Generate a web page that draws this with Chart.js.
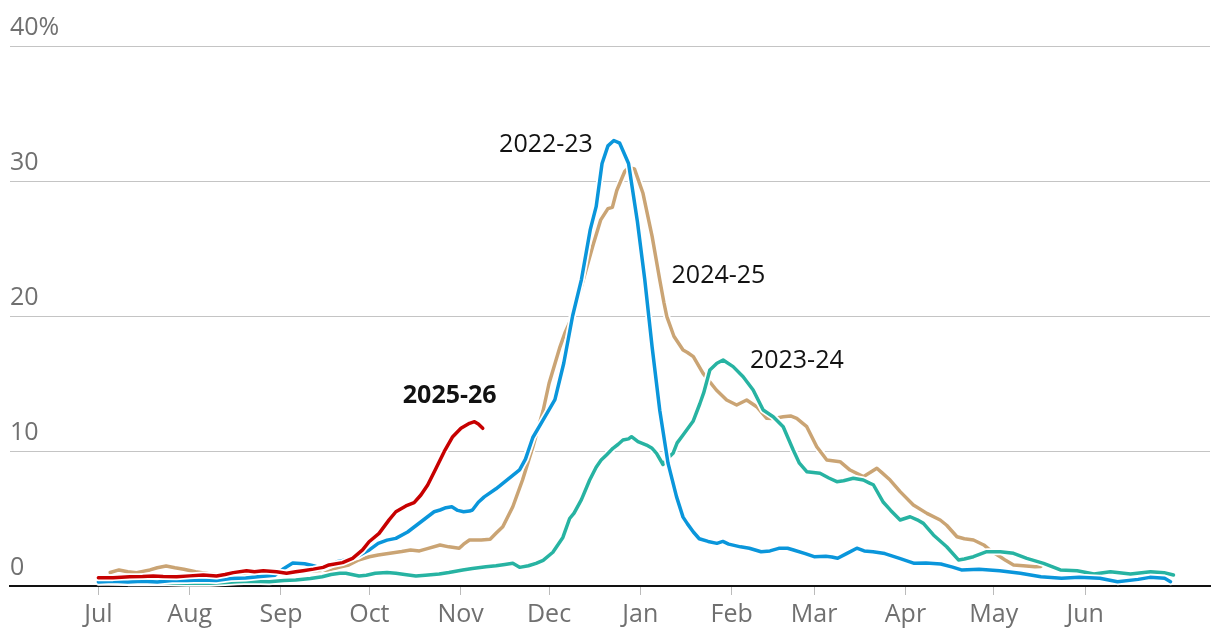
<!DOCTYPE html>
<html>
<head>
<meta charset="utf-8">
<script src="https://cdn.jsdelivr.net/npm/chart.js@4.4.0/dist/chart.umd.min.js"></script>
<style>
  html, body { margin: 0; padding: 0; background: #fff; }
  canvas { display: block; }
</style>
</head>
<body>
<canvas id="chart" width="1220" height="644"></canvas>
<script>
// days since 1 July, season by season
const monthDays = [0, 31, 62, 92, 123, 153, 184, 215, 243, 274, 304, 335];
const monthLabels = ['Jul', 'Aug', 'Sep', 'Oct', 'Nov', 'Dec', 'Jan', 'Feb', 'Mar', 'Apr', 'May', 'Jun'];
const yTicks = [0, 10, 20, 30, 40];

// 2025-26 (red)
const days2526 = [0, 5, 10.7, 15, 18.6, 22, 26.6, 31, 35.6, 40.1, 43, 45.8, 50.3, 53, 56, 60.5, 63.9, 67, 69.5, 73, 76.3, 78.3, 82.9, 86.3, 89.7, 91.9, 95.3, 98.7, 101, 104.4, 107.2, 109.5, 111.8, 114.6, 117.4, 120.3, 123.1, 126, 127.7, 129, 130.5];
const vals2526 = [0.62, 0.62, 0.69, 0.7, 0.74, 0.7, 0.69, 0.75, 0.81, 0.74, 0.85, 0.99, 1.13, 1.05, 1.13, 1.06, 0.94, 1.05, 1.13, 1.25, 1.38, 1.56, 1.73, 2.05, 2.67, 3.28, 3.9, 4.9, 5.5, 5.93, 6.17, 6.74, 7.48, 8.7, 9.95, 11.06, 11.68, 12.05, 12.17, 12.0, 11.68];

// 2022-23 (blue)
const days2223 = [0, 5, 10, 15, 20, 25, 30, 35, 40, 45, 50, 55, 60, 63, 66, 70, 73, 76, 79, 81, 84, 88, 92, 95, 98, 101, 105, 108, 111, 114, 116, 118, 120, 122, 124, 126, 127, 129, 131, 135, 139, 143, 145, 147.5, 151, 155, 158, 161, 164, 167, 169, 171, 173, 175, 177, 180, 183, 185.5, 188, 190.6, 193.4, 196.3, 198.5, 200, 202, 204, 207, 210, 212, 214, 218, 221, 225, 228, 231, 234, 236, 240, 243, 247, 249, 251, 254, 257.5, 260, 263, 267, 272, 277, 281, 286, 290, 293, 299, 306, 313, 320, 327, 333, 340, 346, 353, 357, 362, 364];
const vals2223 = [0.3, 0.35, 0.3, 0.35, 0.3, 0.4, 0.4, 0.45, 0.4, 0.55, 0.6, 0.7, 0.8, 1.3, 1.7, 1.65, 1.5, 1.3, 1.55, 1.8, 1.93, 2.2, 2.67, 3.16, 3.4, 3.53, 4.0, 4.5, 5.0, 5.5, 5.63, 5.8, 5.87, 5.6, 5.5, 5.55, 5.63, 6.2, 6.6, 7.2, 7.9, 8.6, 9.4, 11.0, 12.3, 13.8, 16.5, 20.0, 22.7, 26.4, 28.1, 31.3, 32.6, 33.0, 32.8, 31.3, 27.0, 22.7, 17.7, 13.0, 9.1, 6.6, 5.1, 4.6, 4.0, 3.5, 3.3, 3.16, 3.3, 3.1, 2.9, 2.8, 2.54, 2.6, 2.79, 2.8, 2.67, 2.4, 2.17, 2.2, 2.15, 2.05, 2.4, 2.8, 2.6, 2.54, 2.4, 2.05, 1.68, 1.7, 1.63, 1.4, 1.19, 1.24, 1.13, 0.94, 0.69, 0.57, 0.64, 0.57, 0.32, 0.49, 0.64, 0.57, 0.32];

// 2023-24 (teal)
const days2324 = [0, 10, 20, 30, 38, 43, 47, 52, 58, 63, 67, 72, 76, 79, 82, 84, 88.5, 91, 94, 98, 101, 104, 107.8, 111, 115.7, 119, 123.7, 127, 131.6, 135, 138, 140.7, 143, 146, 148.6, 151, 154.3, 157.7, 160, 161.5, 164, 166.8, 169, 170.7, 172.5, 174.7, 176.5, 178.1, 180, 181, 183.2, 186.1, 188, 189.5, 191.7, 193, 195.1, 196.5, 198.5, 201.9, 204.2, 205.5, 207.6, 210, 212.1, 215.5, 218.9, 222.3, 225.7, 229.1, 232.5, 235.9, 238, 240.5, 245, 248, 250.7, 253, 256.3, 259.7, 262, 263.1, 266.5, 269, 272.2, 275.6, 278, 280.1, 283.5, 288, 292, 294, 297.1, 301.6, 306.2, 310.7, 315.2, 320.9, 326.6, 332.3, 338, 343.6, 350.4, 357.2, 361.8, 365];
const vals2324 = [0.3, 0.25, 0.25, 0.2, 0.2, 0.25, 0.32, 0.35, 0.32, 0.4, 0.44, 0.55, 0.69, 0.85, 0.94, 0.94, 0.74, 0.8, 0.94, 1.0, 0.94, 0.85, 0.74, 0.8, 0.89, 1.0, 1.19, 1.3, 1.43, 1.5, 1.6, 1.68, 1.38, 1.5, 1.68, 1.9, 2.5, 3.6, 5.0, 5.4, 6.4, 7.85, 8.8, 9.33, 9.7, 10.2, 10.5, 10.81, 10.9, 11.06, 10.69, 10.44, 10.2, 9.83, 9.0, 9.4, 9.83, 10.6, 11.19, 12.2, 13.5, 14.3, 16.0, 16.5, 16.74, 16.25, 15.5, 14.52, 13.04, 12.54, 11.8, 10.07, 9.1, 8.47, 8.35, 8.0, 7.73, 7.8, 7.98, 7.85, 7.6, 7.5, 6.2, 5.6, 4.89, 5.13, 4.9, 4.64, 3.78, 2.91, 1.93, 2.0, 2.17, 2.54, 2.54, 2.42, 2.05, 1.68, 1.19, 1.13, 0.89, 1.06, 0.89, 1.06, 0.99, 0.81];

// 2024-25 (tan)
const days2425 = [4, 7, 10, 13, 17.5, 20, 23, 26, 29, 33, 38, 42, 46, 50, 55, 60, 65, 70, 75, 78, 82, 85, 88, 92, 95, 99, 103, 106, 109, 112, 116, 119, 122.5, 124, 126, 130, 133, 135, 137.3, 140.7, 144, 147.5, 151, 153, 156.7, 158.5, 161, 164, 168, 170.5, 173, 174.5, 176, 178.7, 180, 182, 184.9, 188, 190.6, 192, 193, 195.4, 198.5, 200, 202, 205.3, 209.8, 213.3, 216.7, 220.1, 223.5, 226.9, 229, 232.5, 235, 237.1, 240.5, 243.9, 247.3, 251.8, 255.2, 259.7, 262, 264.3, 266, 268.8, 272.2, 276.7, 281.3, 285.8, 288, 291.5, 294, 297.1, 300.6, 303, 306.2, 308, 310.7, 314, 318, 320];
const vals2425 = [1.0, 1.19, 1.05, 0.99, 1.19, 1.35, 1.48, 1.35, 1.24, 1.06, 0.89, 0.8, 0.85, 0.9, 1.0, 1.0, 1.05, 1.1, 1.15, 1.19, 1.4, 1.56, 1.9, 2.17, 2.3, 2.42, 2.55, 2.67, 2.6, 2.79, 3.04, 2.9, 2.79, 3.1, 3.41, 3.4, 3.46, 3.9, 4.39, 5.87, 7.85, 10.3, 13.0, 15.0, 17.7, 18.8, 20.0, 22.2, 25.3, 27.1, 27.95, 28.05, 29.3, 30.7, 31.0, 30.9, 29.09, 25.9, 22.67, 21.0, 19.95, 18.5, 17.48, 17.3, 16.99, 15.75, 14.52, 13.78, 13.41, 13.78, 13.28, 12.42, 12.4, 12.54, 12.6, 12.42, 11.8, 10.32, 9.33, 9.21, 8.59, 8.1, 8.4, 8.72, 8.4, 7.85, 6.99, 6.0, 5.38, 4.89, 4.5, 3.65, 3.5, 3.41, 3.04, 2.6, 2.17, 1.9, 1.56, 1.5, 1.43, 1.45];

const seasonLabels = [
    { text: '2022-23', x: 167.9, y: 32.15, align: 'right', bold: false },
    { text: '2024-25', x: 194.6, y: 22.47, align: 'left', bold: false },
    { text: '2023-24', x: 221.2, y: 16.13, align: 'left', bold: false },
    { text: '2025-26', x: 135.2, y: 13.53, align: 'right', bold: true }
];

const FONT = "'Open Sans', 'DejaVu Sans', sans-serif";

function toPoints(days, vals) {
    return days.map((d, i) => ({ x: d, y: vals[i] }));
}

// white outline under every line
const haloPlugin = {
    id: 'halo',
    beforeDatasetDraw(chart, args) {
        const pts = args.meta.data;
        if (!pts.length) return;
        const ctx = chart.ctx;
        ctx.save();
        ctx.beginPath();
        pts.forEach((p, i) => i ? ctx.lineTo(p.x, p.y) : ctx.moveTo(p.x, p.y));
        ctx.strokeStyle = '#ffffff';
        ctx.lineWidth = 7;
        ctx.lineJoin = 'round';
        ctx.lineCap = 'round';
        ctx.stroke();
        ctx.restore();
    }
};

const labelPlugin = {
    id: 'seasonLabels',
    afterDatasetsDraw(chart) {
        const ctx = chart.ctx;
        const xs = chart.scales.x, ys = chart.scales.y;
        ctx.save();
        ctx.fillStyle = '#121212';
        ctx.textBaseline = 'alphabetic';
        seasonLabels.forEach(l => {
            ctx.font = (l.bold ? '700 ' : '400 ') + '25px ' + FONT;
            ctx.textAlign = l.align;
            ctx.fillText(l.text, xs.getPixelForValue(l.x), ys.getPixelForValue(l.y));
        });
        ctx.restore();
    }
};

const lineStyle = { borderWidth: 3.5, pointRadius: 0, tension: 0, fill: false, borderJoinStyle: 'round', borderCapStyle: 'round' };

new Chart(document.getElementById('chart'), {
    type: 'line',
    data: {
        datasets: [
            { label: '2025-26', data: toPoints(days2526, vals2526), borderColor: '#c70000', ...lineStyle },
            { label: '2022-23', data: toPoints(days2223, vals2223), borderColor: '#0a96db', ...lineStyle },
            { label: '2023-24', data: toPoints(days2324, vals2324), borderColor: '#27b3a2', ...lineStyle },
            { label: '2024-25', data: toPoints(days2425, vals2425), borderColor: '#caa474', ...lineStyle }
        ]
    },
    options: {
        responsive: false,
        animation: false,
        devicePixelRatio: 1,
        layout: { padding: { top: 46, left: 10, right: 10, bottom: 0 } },
        plugins: { legend: { display: false }, tooltip: { enabled: false } },
        scales: {
            x: {
                type: 'linear',
                min: -30,
                max: 377.4,
                afterBuildTicks: scale => { scale.ticks = monthDays.map(v => ({ value: v })); },
                afterFit: scale => { scale.height = 58; },
                ticks: {
                    autoSkip: false,
                    maxRotation: 0,
                    padding: 5,
                    color: '#707070',
                    font: { family: FONT, size: 25 },
                    callback: v => monthLabels[monthDays.indexOf(v)]
                },
                grid: { drawOnChartArea: false, drawTicks: true, tickLength: 9, color: '#bbbbbb' },
                border: { display: true, color: '#121212', width: 2 }
            },
            y: {
                min: 0,
                max: 40,
                afterBuildTicks: scale => { scale.ticks = yTicks.map(v => ({ value: v })); },
                afterFit: scale => { scale.width = 0; },
                ticks: {
                    mirror: true,
                    padding: 0,
                    labelOffset: -18,
                    color: '#707070',
                    font: { family: FONT, size: 25 },
                    callback: v => v === 40 ? '40%' : String(v)
                },
                grid: { color: '#c4c4c4', lineWidth: 1, drawTicks: false },
                border: { display: false }
            }
        }
    },
    plugins: [haloPlugin, labelPlugin]
});
</script>
</body>
</html>
